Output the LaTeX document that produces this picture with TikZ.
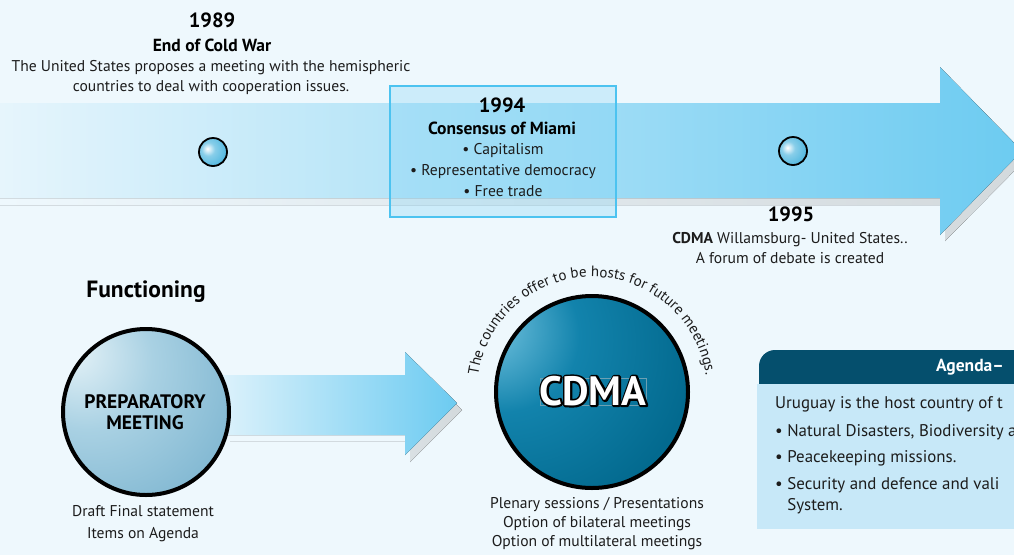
\documentclass[tikz,border=0pt]{standalone}
\usepackage{fontspec}
\setmainfont{PT Sans}
\usetikzlibrary{decorations.text,shadings}
\definecolor{bg}{HTML}{EEF8FD}
\definecolor{txtc}{HTML}{1C1C1C}
\definecolor{arrowR}{HTML}{6CCBF1}
\definecolor{arrowL}{HTML}{E6F5FC}
\definecolor{shadowc}{HTML}{D3D9DC}
\definecolor{boxline}{HTML}{4CC3F0}
\definecolor{boxfill}{HTML}{7FD3F5}
\definecolor{headc}{HTML}{054F6D}
\definecolor{bodyc}{HTML}{C7E8F8}
\definecolor{ballc}{HTML}{55B9E0}
\definecolor{cdA}{HTML}{E6F3F8}
\definecolor{cdB}{HTML}{5FB6D5}
\definecolor{cdC}{HTML}{1283AC}
\definecolor{cdD}{HTML}{036A8F}
\definecolor{cdE}{HTML}{025F85}
\definecolor{prA}{HTML}{E6F3F8}
\definecolor{prB}{HTML}{A9D1E3}
\definecolor{prC}{HTML}{7DB5D0}
\definecolor{prD}{HTML}{72ADCA}
\pgfdeclareradialshading{cdmashade}{\pgfpoint{-30bp}{19bp}}{color(0bp)=(cdA); color(6bp)=(cdB); color(20bp)=(cdC); color(42bp)=(cdD); color(90bp)=(cdE)}
\pgfdeclareradialshading{prepshade}{\pgfpoint{-23bp}{19bp}}{color(0bp)=(prA); color(20bp)=(prB); color(45bp)=(prC); color(90bp)=(prD)}
\pgfdeclareradialshading{smallballshade}{\pgfpoint{-10bp}{6bp}}{color(0bp)=(white); color(12bp)=(ballc!70!white); color(30bp)=(ballc); color(50bp)=(ballc!70!black); color(90bp)=(ballc!60!black)}
\newcommand{\outlinedtext}[1]{\rlap{\color{black}\special{pdf:literal direct 0 G 3.6 w 1 j 2 Tr}#1\special{pdf:literal direct 0 Tr}}\color{white}#1}
\tikzset{
  txt/.style={font=\fontsize{15.6}{20}\selectfont, text=txtc, align=center, inner sep=0pt},
  yearlbl/.style={font=\fontsize{20.5}{22}\selectfont\bfseries, text=black, inner sep=0pt},
  boldlbl/.style={font=\fontsize{17.5}{20}\selectfont\bfseries, text=black, inner sep=0pt},
  bodytxt/.style={font=\fontsize{16.9}{21}\selectfont, text=txtc, inner sep=0pt, anchor=west},
  smallball/.style={circle, minimum size=28pt, inner sep=0pt, shading=smallballshade, draw=black, line width=1.8pt},
  bigcirc/.style={circle, inner sep=0pt, draw=black, line width=4pt},
}
\begin{document}
\begin{tikzpicture}[x=1pt,y=-1pt]
\useasboundingbox (0,0) rectangle (1014,555);
\fill[bg] (0,0) rectangle (1014,555);

% ---- top timeline arrow ----
\fill[left color=bg, right color=shadowc] (0,109) -- (945,109) -- (945,73) -- (1028,157) -- (945,241) -- (945,205) -- (0,205) -- cycle;
\fill[left color=arrowL, right color=arrowR] (0,103) -- (940,103) -- (940,67) -- (1022,151) -- (940,235) -- (940,198) -- (0,198) -- cycle;

% 1994 box
\draw[boxline, line width=2pt, fill=boxfill, fill opacity=0.3] (390,86) rectangle (616,217);

\node[smallball] (b89) at (213,152) {};
\node[smallball] (b95) at (793,151) {};

% 1989 texts
\node[yearlbl] (y89) at (212,20) {1989};
\node[boldlbl] (t89) at (212,45) {End of Cold War};
\node[txt] (d89) at (211,78) {The United States proposes a meeting with the hemispheric\\countries to deal with cooperation issues.};

% 1994 texts
\node[yearlbl] (y94) at (502,105) {1994};
\node[boldlbl] (t94) at (502,128) {Consensus of Miami};
\node[txt, font=\fontsize{15.6}{21}\selectfont] (d94) at (503,170) {• Capitalism\\• Representative democracy\\• Free trade};

% 1995 texts
\node[yearlbl] (y95) at (791,214) {1995};
\node[txt] (d95) at (790,248) {\textbf{CDMA} Willamsburg- United States..\\A forum of debate is created};

% ---- functioning ----
\node[font=\fontsize{23.5}{26}\selectfont\bfseries, text=black, inner sep=0pt] (func) at (146,292) {Functioning};

% middle arrow
\fill[left color=bg, right color=shadowc] (230,441) -- (410,441) -- (410,360) -- (462,410) -- (410,462) -- (410,441) -- cycle;
\fill[left color=arrowL, right color=arrowR] (200,375) -- (405,375) -- (405,352) -- (457,403) -- (405,455) -- (405,435) -- (200,435) -- cycle;

\node[bigcirc, minimum size=166pt, shading=prepshade] (prep) at (146,412) {};
\node[font=\fontsize{19.5}{21.5}\selectfont\bfseries, text=black, align=center, inner sep=0pt] (preptxt) at (145,412) {PREPARATORY\\MEETING};
\node[txt, font=\fontsize{15.6}{22}\selectfont] (prepbelow) at (143,524) {Draft Final statement\\Items on Agenda};

% CDMA circle
\node[bigcirc, minimum size=192pt, shading=cdmashade] (cdma) at (592,392) {};
\draw[color=cdB!60!gray, line width=0.5pt] (540,378) rectangle (646,405);
\node[font=\fontsize{41}{44}\selectfont\bfseries, inner sep=0pt] (cdmatxt) at (593,391) {\outlinedtext{CDMA}};

\path[decorate, decoration={text along path, text align=center,
  text={|\fontsize{15}{15}\selectfont\color{txtc}|The countries offer to be hosts for future meetings.}}]
  (592,392) ++(173:115pt) arc[start angle=173, end angle=7, radius=115pt];

\node[txt, font=\fontsize{15.6}{19}\selectfont] (cdmabelow) at (597,524) {Plenary sessions / Presentations\\Option of bilateral meetings\\Option of multilateral meetings};

% ---- agenda box ----
\fill[headc] (759,384) [rounded corners=16pt] -- (759,350) [sharp corners] -- (1020,350) -- (1020,384) -- cycle;
\fill[bodyc] (757,384) rectangle (1020,529);
\node[font=\fontsize{17.5}{20}\selectfont\bfseries, text=white, inner sep=0pt, anchor=west] (agh) at (936,367) {Agenda–};
\node[bodytxt] (ag0) at (775,404) {Uruguay is the host country of t};
\node[bodytxt] (ag1) at (775,432) {• Natural Disasters, Biodiversity a};
\node[bodytxt] (ag2) at (775,458) {• Peacekeeping missions.};
\node[bodytxt, align=left, anchor=north west] (ag3) at (775,477) {• Security and defence and vali\\\hphantom{• }System.};
\end{tikzpicture}
\end{document}
